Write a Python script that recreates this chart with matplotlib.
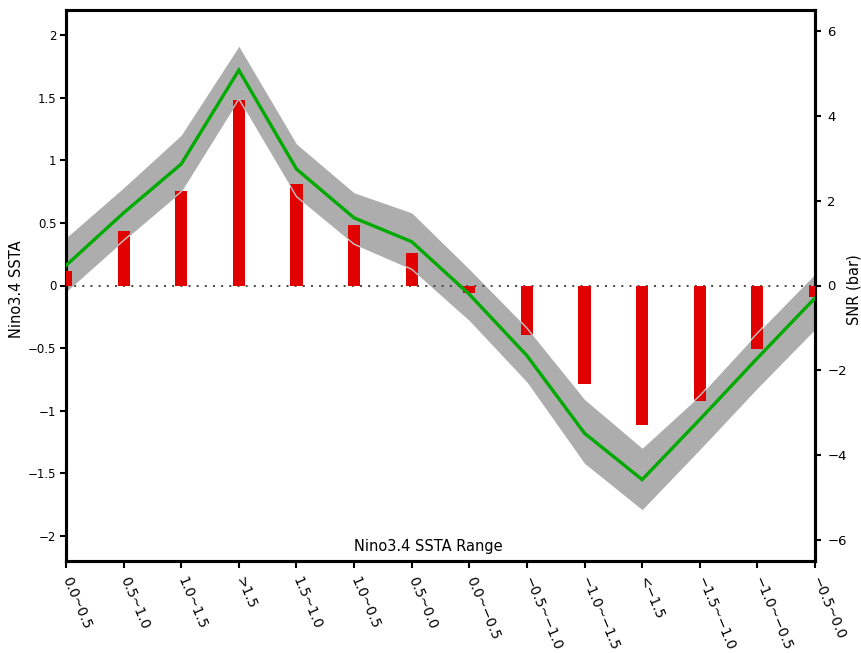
import matplotlib
matplotlib.use("Agg")
import matplotlib.pyplot as plt
import numpy as np

# Nino3.4 SSTA ranges (x categories)
categories = ["0.0~0.5", "0.5~1.0", "1.0~1.5", ">1.5", "1.5~1.0", "1.0~0.5",
              "0.5~0.0", "0.0~\u22120.5", "\u22120.5~\u22121.0", "\u22121.0~\u22121.5",
              "<\u22121.5", "\u22121.5~\u22121.0", "\u22121.0~\u22120.5", "\u22120.5~0.0"]

# composite Nino3.4 SSTA (left axis) with its spread envelope
ssta_mean = [0.16, 0.58, 0.97, 1.72, 0.93, 0.54, 0.35, -0.07, -0.56, -1.18, -1.55, -1.07, -0.58, -0.10]
ssta_upper = [0.38, 0.78, 1.20, 1.91, 1.13, 0.74, 0.58, 0.13, -0.34, -0.91, -1.30, -0.88, -0.38, 0.09]
ssta_lower = [-0.05, 0.36, 0.75, 1.49, 0.71, 0.33, 0.13, -0.28, -0.77, -1.42, -1.79, -1.31, -0.82, -0.35]

# signal-to-noise ratio (right axis, bars)
snr = [0.35, 1.28, 2.22, 4.37, 2.39, 1.42, 0.76, -0.18, -1.17, -2.33, -3.28, -2.73, -1.50, -0.28]

left_ticks = [-2, -1.5, -1, -0.5, 0, 0.5, 1, 1.5, 2]
left_ticklabels = ["\u22122", "\u22121.5", "\u22121", "\u22120.5", "0", "0.5", "1", "1.5", "2"]
right_ticks = [-6, -4, -2, 0, 2, 4, 6]
right_ticklabels = ["\u22126", "\u22124", "\u22122", "0", "2", "4", "6"]

plt.rcParams["font.family"] = ["DejaVu Sans"]

W, H = 861, 653
fig = plt.figure(figsize=(W / 100, H / 100), dpi=100)
x = np.arange(len(categories))

ax = fig.add_axes([66 / W, 1 - 561 / H, 749 / W, 551 / H])
ax.set_xlim(0, len(categories) - 1)
ax.set_ylim(-2.2, 2.2)

# envelope and zero line
ax.fill_between(x, ssta_lower, ssta_upper, color="#adadad", linewidth=0, zorder=1)
ax.axhline(0, color="#444444", linewidth=1.4, dashes=(1, 3.2), zorder=2)

ax.set_yticks(left_ticks)
ax.set_yticklabels(left_ticklabels)
ax.set_xticks(x)
ax.set_xticklabels(categories, rotation=-67, ha="left", va="center",
                   rotation_mode="anchor", fontsize=10)
ax.tick_params(axis="y", direction="out", length=4, width=1.5, labelsize=8.5, pad=3)
ax.tick_params(axis="x", direction="out", length=5, width=1.5, pad=7)

# SNR bars on the right axis
axb = ax.twinx()
axb.set_ylim(-6.5, 6.5)
bars = axb.bar(x, snr, width=0.21, color="#e00000", linewidth=0, zorder=3)
axb.set_yticks(right_ticks)
axb.set_yticklabels(right_ticklabels)
axb.tick_params(axis="y", direction="out", length=4, width=1.5, labelsize=9.5, pad=5)

# envelope edges (seen where they cross the bars) and the mean curve on top
axl = ax.twinx()
axl.set_ylim(ax.get_ylim())
axl.set_axis_off()
for patch in bars.patches:
    for edge in (ssta_upper, ssta_lower):
        ln, = axl.plot(x, edge, color="#c8c8c8", linewidth=1.0, zorder=4)
        ln.set_clip_path(patch)
axl.plot(x, ssta_mean, color="#00aa00", linewidth=2.4, zorder=5, solid_joinstyle="miter")

for a in (ax, axb):
    for s in a.spines.values():
        s.set_linewidth(2.2)

fig.text(17 / W, 1 - 289 / H, "Nino3.4 SSTA", rotation=90, ha="center", va="center", fontsize=10.5)
fig.text(854 / W, 1 - 290 / H, "SNR (bar)", rotation=90, ha="center", va="center", fontsize=10.5)
fig.text(428 / W, 1 - 546 / H, "Nino3.4 SSTA Range", ha="center", va="center", fontsize=10.5)

fig.savefig("out.png", dpi=100)
